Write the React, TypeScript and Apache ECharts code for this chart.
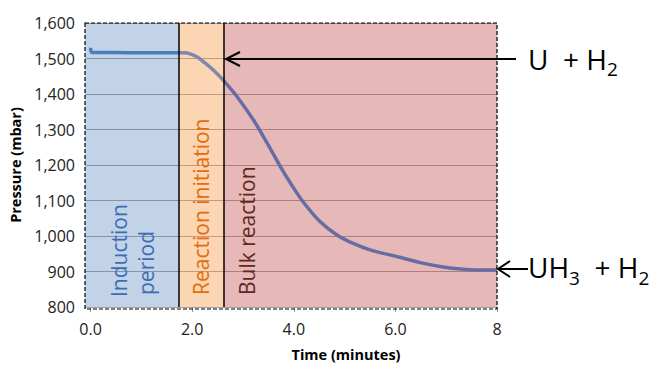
import React, { useEffect, useRef } from "react";
import * as echarts from "echarts";

const FONT = '"Open Sans", "DejaVu Sans", sans-serif';

// Time (minutes) and pressure (mbar)
const timeMin = [0, 0.03, 0.5, 1.0, 1.5, 1.73, 1.85, 1.96, 2.1, 2.22, 2.42, 2.61, 2.88, 3.2, 3.47, 3.73, 3.93, 4.19, 4.52, 4.85, 5.17, 5.5, 6.09, 6.49, 6.88, 7.28, 7.67, 8.0];
const pressureMbar = [1530, 1517, 1517, 1516, 1516, 1516, 1516, 1513, 1504, 1491, 1467, 1439, 1393, 1328, 1263, 1197, 1150, 1095, 1040, 1003, 979, 961, 940, 925, 914, 907, 904, 904];

// Axis setup
const xAxisMin = -0.11;
const xAxisMax = 8;
const xTickValues = [0, 2, 4, 6, 8];
const yAxisMin = 800;
const yAxisMax = 1600;
const yAxisStep = 100;

// Phases
const phaseLabels = ["Induction period", "Reaction initiation", "Bulk reaction"];
const phaseStart = [xAxisMin, 1.73, 2.63];
const phaseEnd = [1.73, 2.63, 8];
const phaseFill = ["rgba(79,129,189,0.35)", "rgba(247,150,70,0.4)", "rgba(192,80,77,0.4)"];
const phaseLineColor = ["#4a7ebb", "#8088ab", "#676da3"];
const phaseTextColor = ["#3d6db5", "#e46c0a", "#632523"];

export default function App() {
  const ref = useRef<HTMLDivElement>(null);

  useEffect(() => {
    if (!ref.current) return;
    const chart = echarts.init(ref.current, undefined, { renderer: "svg" });

    const data = timeMin.map((t, i) => [t, pressureMbar[i]]);

    const gridLeft = 85, gridTop = 23, gridW = 412, gridH = 286;

    const arrowStyle = { stroke: "#000", lineWidth: 2 };

    const rotLabel = (text: string, x: number, y: number, color: string) => ({
      type: "text",
      x,
      y,
      rotation: Math.PI / 2,
      style: {
        text,
        fill: color,
        fontFamily: FONT,
        fontSize: 21,
        textAlign: "left",
        textVerticalAlign: "middle",
        verticalAlign: "middle",
      },
      z: 8,
    });

    chart.setOption({
      animation: false,
      grid: { left: gridLeft, top: gridTop, width: gridW, height: gridH },
      xAxis: {
        type: "value",
        min: xAxisMin,
        max: xAxisMax,
        name: "Time (minutes)",
        nameLocation: "middle",
        nameGap: 40,
        nameTextStyle: {
          fontFamily: FONT,
          fontWeight: "bold",
          fontSize: 14.5,
          color: "#000",
          padding: [0, 0, 0, 110],
        },
        axisLine: { show: false },
        axisTick: {
          show: true,
          customValues: xTickValues,
          length: 5,
          lineStyle: { color: "#999" },
        },
        axisLabel: {
          customValues: xTickValues,
          formatter: (v: number) => (v === xAxisMax ? String(v) : v.toFixed(1)),
          fontFamily: FONT,
          fontSize: 16,
          color: "#222",
          margin: 14,
        },
        splitLine: { show: false },
      },
      yAxis: {
        type: "value",
        min: yAxisMin,
        max: yAxisMax,
        interval: yAxisStep,
        name: "Pressure (mbar)",
        nameLocation: "middle",
        nameGap: 58,
        nameTextStyle: {
          fontFamily: FONT,
          fontWeight: "bold",
          fontSize: 14.5,
          color: "#000",
        },
        axisLine: { show: false },
        axisTick: { show: false },
        axisLabel: {
          formatter: (v: number) => v.toLocaleString("en-US"),
          fontFamily: FONT,
          fontSize: 16,
          color: "#222",
          margin: 10,
        },
        splitLine: { show: true, lineStyle: { color: "#a0a0a0", width: 1 } },
      },
      visualMap: {
        type: "piecewise",
        show: false,
        dimension: 0,
        seriesIndex: 0,
        pieces: phaseStart.map((s, i) =>
          i === 0
            ? { lt: phaseEnd[i], color: phaseLineColor[i] }
            : i === phaseStart.length - 1
            ? { gte: s, color: phaseLineColor[i] }
            : { gte: s, lt: phaseEnd[i], color: phaseLineColor[i] }
        ),
      },
      series: [
        {
          type: "line",
          data,
          showSymbol: false,
          smooth: 0.35,
          lineStyle: { width: 3.5 },
          z: 3,
          markArea: {
            silent: true,
            data: phaseStart.map((s, i) => [
              { xAxis: s, itemStyle: { color: phaseFill[i] } },
              { xAxis: phaseEnd[i] },
            ]),
          },
          markLine: {
            silent: true,
            symbol: "none",
            label: { show: false },
            lineStyle: { color: "#000", width: 1.5, type: "solid" },
            data: phaseStart.slice(1).map((s) => ({ xAxis: s })),
          },
        },
      ],
      graphic: [
        {
          type: "rect",
          shape: { x: gridLeft, y: gridTop, width: gridW, height: gridH },
          style: { fill: "none", stroke: "#000", lineWidth: 1.2, lineDash: [4, 2] },
          z: 10,
          silent: true,
        },
        rotLabel(phaseLabels[0].split(" ")[0], 118.5, 297, phaseTextColor[0]),
        rotLabel(phaseLabels[0].split(" ")[1], 146, 295, phaseTextColor[0]),
        rotLabel(phaseLabels[1], 201, 295, phaseTextColor[1]),
        rotLabel(phaseLabels[2], 246.5, 295, phaseTextColor[2]),
        // arrow to U + H2
        { type: "line", shape: { x1: 226, y1: 59, x2: 516, y2: 59 }, style: arrowStyle, z: 11 },
        {
          type: "polyline",
          shape: { points: [[240, 52], [226, 59], [240, 66]] },
          style: { stroke: "#000", lineWidth: 2, fill: "none" },
          z: 11,
        },
        {
          type: "text",
          x: 528,
          y: 58.5,
          style: {
            text: "{m|U  + H}{s|2}",
            fill: "#000",
            textAlign: "left",
            textVerticalAlign: "middle",
            verticalAlign: "middle",
            rich: {
              m: { fontFamily: FONT, fontSize: 28, fill: "#000" },
              s: { fontFamily: FONT, fontSize: 19, fill: "#000", padding: [20, 0, 0, 0] },
            },
          },
          z: 11,
        },
        // arrow to UH3 + H2
        { type: "line", shape: { x1: 498, y1: 269, x2: 528, y2: 269 }, style: arrowStyle, z: 11 },
        {
          type: "polyline",
          shape: { points: [[510, 261], [498, 269], [510, 277]] },
          style: { stroke: "#000", lineWidth: 2, fill: "none" },
          z: 11,
        },
        {
          type: "text",
          x: 528,
          y: 266.5,
          style: {
            text: "{m|UH}{s|3}{m|  + H}{s|2}",
            fill: "#000",
            textAlign: "left",
            textVerticalAlign: "middle",
            verticalAlign: "middle",
            rich: {
              m: { fontFamily: FONT, fontSize: 28, fill: "#000" },
              s: { fontFamily: FONT, fontSize: 19, fill: "#000", padding: [22, 0, 0, 0] },
            },
          },
          z: 11,
        },
      ],
    });

    return () => chart.dispose();
  }, []);

  return (
    <div
      ref={ref}
      style={{ position: "fixed", left: 0, top: 0, width: 649, height: 367, background: "#fff" }}
    />
  );
}
